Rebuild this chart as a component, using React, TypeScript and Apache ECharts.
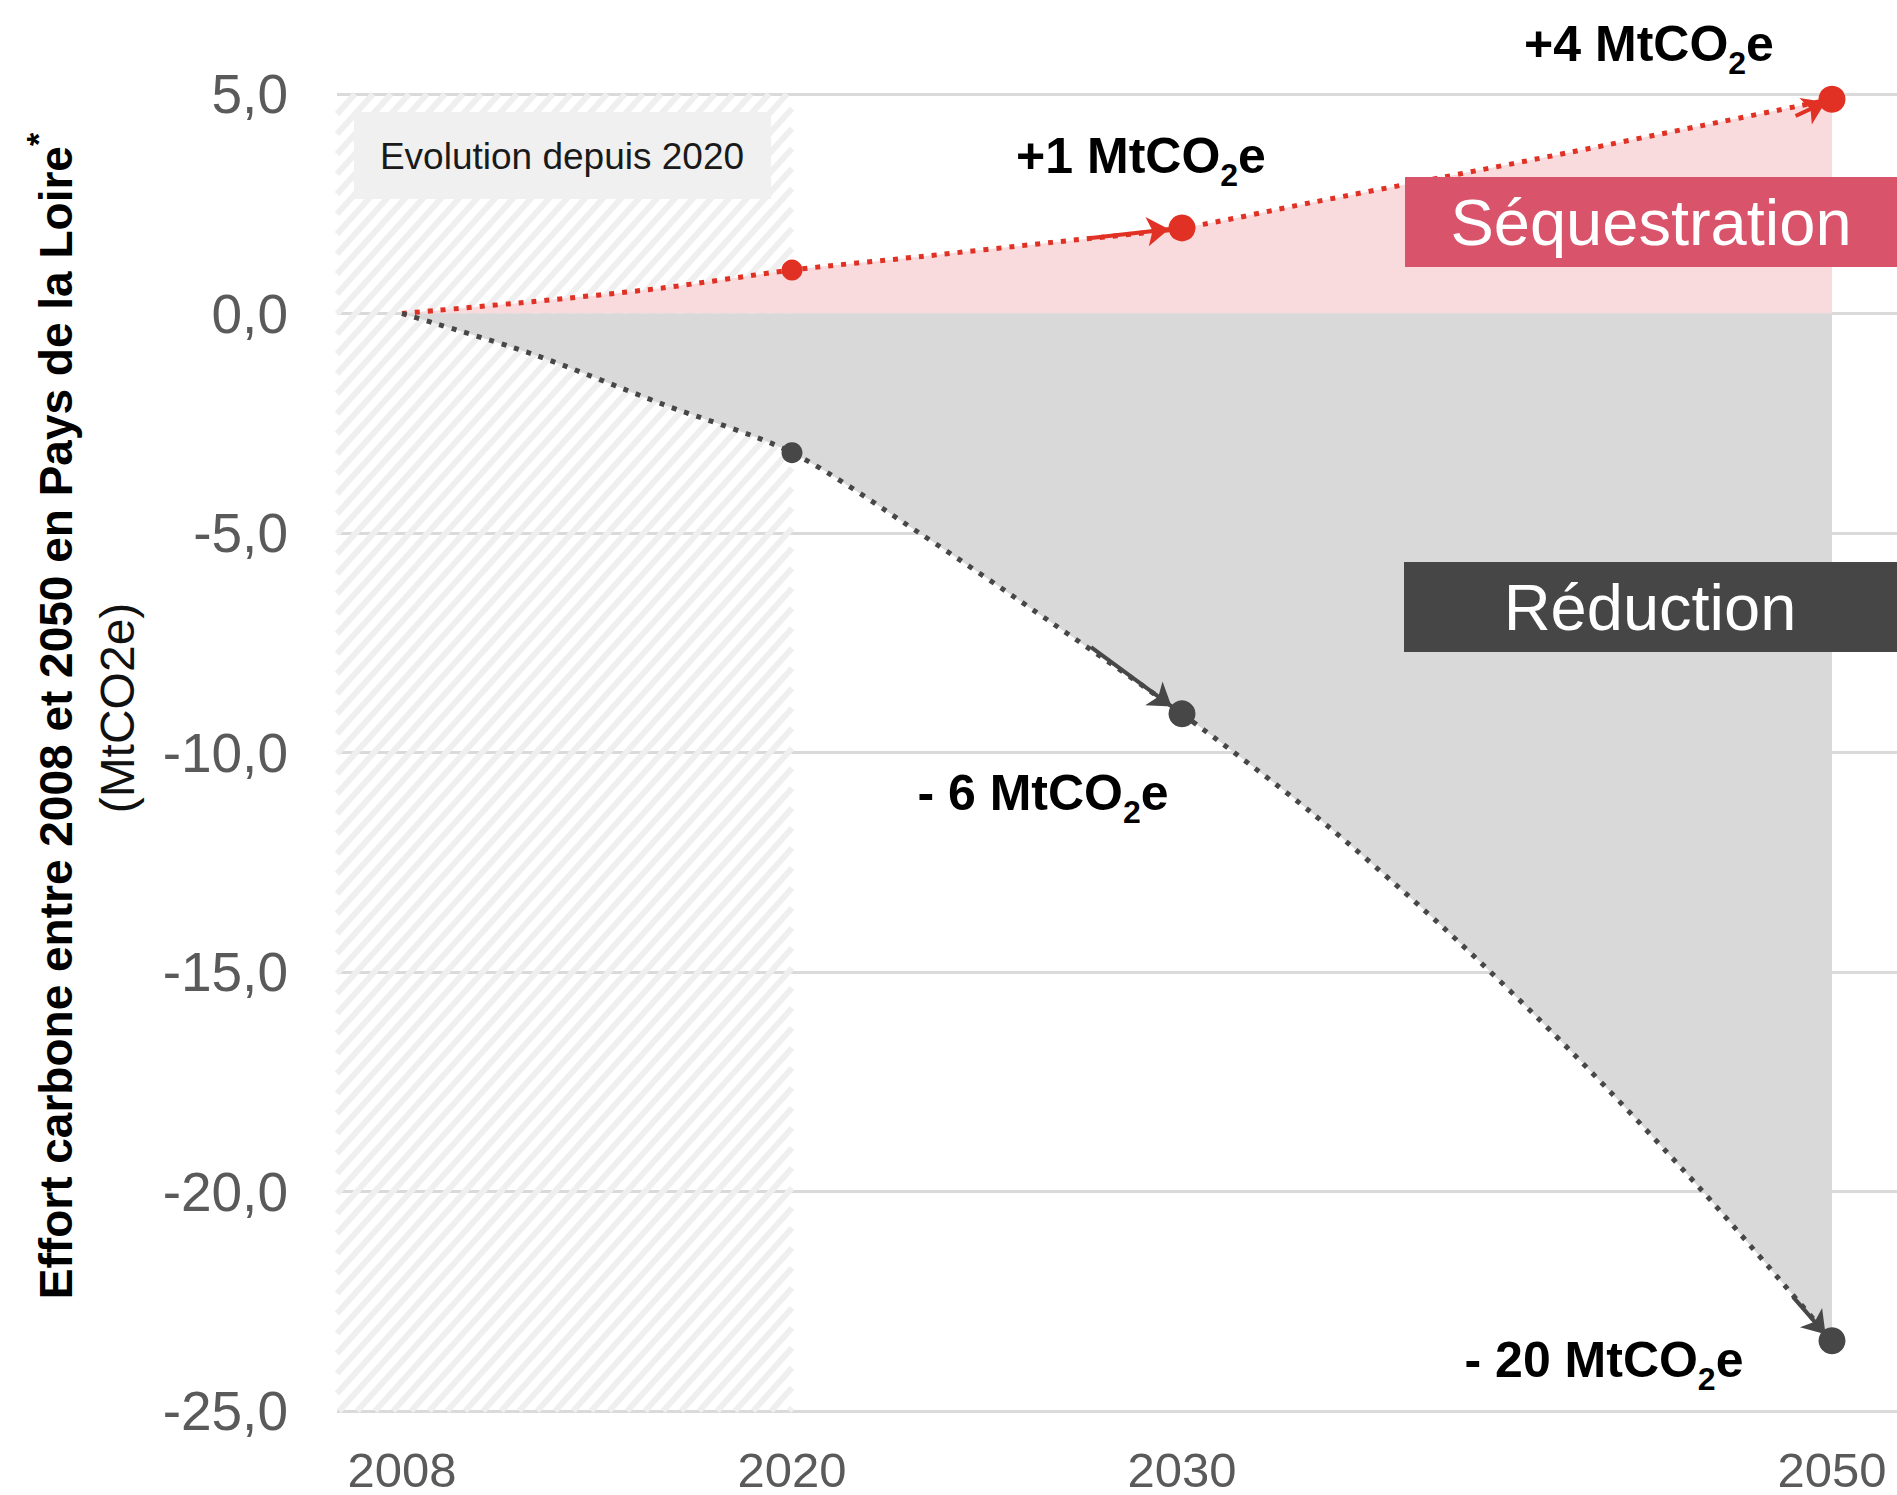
import React, { useEffect, useRef } from "react";
import * as echarts from "echarts";

// ---- data ----
const slots = [0, 1, 2, 3, 4, 5, 6, 7, 8, 9, 10, 11];
const yearLabels = ["2008", "", "", "2020", "", "", "2030", "", "", "", "", "2050"];
const sequestration = [0, 0.27, 0.58, 0.99, 1.3, 1.62, 1.95, 2.53, 3.1, 3.68, 4.28, 4.88];
const reduction = [0, -0.92, -2.06, -3.17, -5.04, -7.05, -9.12, -11.38, -13.96, -16.83, -19.98, -23.4];
const markedSlots = [3, 6, 11];
const yTickValues = [-25, -20, -15, -10, -5, 0, 5];
const historyEndSlot = 3; // 2020
const seqArrows = [
  [[5.3, 1.72], [5.9, 1.92]],
  [[10.72, 4.5], [10.95, 4.82]],
];
const redArrows = [
  [[5.3, -7.6], [5.92, -8.95]],
  [[10.7, -22.4], [10.95, -23.25]],
];
const seqNotes = [
  { slot: 6, text: "+1 MtCO" },
  { slot: 11, text: "+4 MtCO" },
];
const redNotes = [
  { slot: 6, text: "- 6 MtCO" },
  { slot: 11, text: "- 20 MtCO" },
];

// ---- styles ----
const FONT = '"Liberation Sans", Arial, Helvetica, sans-serif';
const RED = "#e03124";
const PINK = "#f9dadd";
const DARK = "#474747";
const GREY_FILL = "#d9d9d9";
const X_MIN = -0.5;
const X_MAX = 11.5;
const noteOffsets: Record<string, number[]> = {
  "s6": [-41, -72],
  "s11": [-183, -55],
  "r6": [-139, 79],
  "r11": [-228, 19],
};

const rich = {
  a: { fontSize: 50, fontWeight: "bold", color: "#000", fontFamily: FONT, lineHeight: 60 },
  s: { fontSize: 32, fontWeight: "bold", color: "#000", fontFamily: FONT, padding: [38, 0, 0, 0] },
};

function buildData(values: number[], notes: { slot: number; text: string }[], key: string) {
  return slots.map((s, i) => {
    const marked = markedSlots.includes(s);
    const note = notes.find((n) => n.slot === s);
    const item: any = {
      value: [s, values[i]],
      symbol: marked ? "circle" : "none",
      symbolSize: s === historyEndSlot ? 21 : 27,
    };
    if (note) {
      item.label = {
        show: true,
        position: "inside",
        offset: noteOffsets[key + s],
        formatter: `{a|${note.text}}{s|2}{a|e}`,
        rich,
      };
    }
    return item;
  });
}

export default function App() {
  const ref = useRef<HTMLDivElement>(null);

  useEffect(() => {
    document.body.style.margin = "0";
    document.body.style.overflow = "hidden";
    const chart = echarts.init(ref.current!, null, { renderer: "svg" });
    const yMin = yTickValues[0];
    const yMax = yTickValues[yTickValues.length - 1];

    const option: any = {
      animation: false,
      backgroundColor: "#ffffff",
      grid: { left: 337, right: 0, top: 94, bottom: 84, containLabel: false, outerBoundsMode: "none" },
      xAxis: {
        type: "value",
        min: X_MIN,
        max: X_MAX,
        interval: 0.5,
        axisLine: { show: false },
        axisTick: { show: false },
        splitLine: { show: false },
        axisLabel: {
          margin: 34,
          fontSize: 49,
          color: "#5a5a5a",
          fontFamily: FONT,
          showMinLabel: true,
          showMaxLabel: true,
          formatter: (v: number) => {
            const i = Math.round(v);
            if (Math.abs(v - i) > 1e-6) return "";
            return yearLabels[i] ?? "";
          },
        },
      },
      yAxis: {
        type: "value",
        min: yMin,
        max: yMax,
        interval: 5,
        axisLine: { show: false },
        axisTick: { show: false },
        splitLine: { show: true, lineStyle: { color: "#dadada", width: 3 } },
        axisLabel: {
          margin: 49,
          fontSize: 55,
          color: "#5a5a5a",
          fontFamily: FONT,
          formatter: (v: number) => v.toFixed(1).replace(".", ","),
        },
      },
      series: [
        {
          type: "custom",
          silent: true,
          clip: false,
          z: 1,
          data: [[X_MIN, yMax]],
          renderItem: (_params: any, api: any) => {
            const tl = api.coord([X_MIN, yMax]);
            const br = api.coord([historyEndSlot, yMin]);
            const x0 = tl[0], yt = tl[1], x1 = br[0], yb = br[1];
            const H = yb - yt;
            const r = 1 / Math.tan((48 * Math.PI) / 180);
            const children: any[] = [];
            for (let c = x0 - H * r; c < x1; c += 18) {
              let sx = c, sy = yb;
              if (sx < x0) { sy = yb - (x0 - c) / r; sx = x0; }
              let ex = c + H * r, ey = yt;
              if (ex > x1) { ey = yb - (x1 - c) / r; ex = x1; }
              if (sy > ey) {
                children.push({
                  type: "line",
                  shape: { x1: sx, y1: sy, x2: ex, y2: ey },
                  style: { stroke: "#efefef", lineWidth: 6 },
                });
              }
            }
            return { type: "group", children };
          },
        },
        {
          name: "Séquestration",
          type: "line",
          z: 3,
          smooth: 0.3,
          showAllSymbol: true,
          data: buildData(sequestration, seqNotes, "s"),
          lineStyle: { color: RED, width: 5, type: [5, 8] },
          itemStyle: { color: RED },
          areaStyle: { color: PINK, opacity: 1, origin: 0 },
          markLine: {
            silent: true,
            symbol: ["none", "arrow"],
            symbolSize: 22,
            label: { show: false },
            lineStyle: { color: RED, width: 4, type: "solid" },
            data: seqArrows.map(([a, b]) => [{ coord: a }, { coord: b }]),
          },
        },
        {
          name: "Réduction",
          type: "line",
          z: 3,
          smooth: 0.3,
          showAllSymbol: true,
          data: buildData(reduction, redNotes, "r"),
          lineStyle: { color: DARK, width: 5, type: [5, 8] },
          itemStyle: { color: DARK },
          areaStyle: { color: GREY_FILL, opacity: 1, origin: 0 },
          markLine: {
            silent: true,
            symbol: ["none", "arrow"],
            symbolSize: 22,
            label: { show: false },
            lineStyle: { color: DARK, width: 4, type: "solid" },
            data: redArrows.map(([a, b]) => [{ coord: a }, { coord: b }]),
          },
        },
      ],
      graphic: [
        {
          type: "rect",
          z: 100,
          shape: { x: 354, y: 112, width: 417, height: 87 },
          style: { fill: "#f0f0f0" },
        },
        {
          type: "text",
          z: 101,
          x: 562,
          y: 156,
          style: {
            text: "Evolution depuis 2020",
            fontSize: 37,
            fontFamily: FONT,
            fill: "#1a1a1a",
            align: "center",
            verticalAlign: "middle",
          },
        },
        {
          type: "rect",
          z: 100,
          shape: { x: 1405, y: 177, width: 492, height: 90 },
          style: { fill: "#d9536b" },
        },
        {
          type: "text",
          z: 101,
          x: 1651,
          y: 222,
          style: {
            text: "Séquestration",
            fontSize: 65,
            fontFamily: FONT,
            fill: "#ffffff",
            align: "center",
            verticalAlign: "middle",
          },
        },
        {
          type: "rect",
          z: 100,
          shape: { x: 1404, y: 562, width: 493, height: 90 },
          style: { fill: "#464646" },
        },
        {
          type: "text",
          z: 101,
          x: 1650,
          y: 607,
          style: {
            text: "Réduction",
            fontSize: 65,
            fontFamily: FONT,
            fill: "#ffffff",
            align: "center",
            verticalAlign: "middle",
          },
        },
        {
          type: "text",
          z: 101,
          x: 56,
          y: 716,
          rotation: Math.PI / 2,
          style: {
            text: "{b|Effort carbone entre 2008 et 2050 en Pays de la Loire}{sup|*}",
            align: "center",
            verticalAlign: "middle",
            rich: {
              b: { fontSize: 46, fontWeight: "bold", fontFamily: FONT, fill: "#000" },
              sup: { fontSize: 34, fontWeight: "bold", fontFamily: FONT, fill: "#000", padding: [0, 0, 36, 0] },
            },
          },
        },
        {
          type: "text",
          z: 101,
          x: 117,
          y: 708,
          rotation: Math.PI / 2,
          style: {
            text: "(MtCO2e)",
            fontSize: 48,
            fontFamily: FONT,
            fill: "#111",
            align: "center",
            verticalAlign: "middle",
          },
        },
      ],
    };

    chart.setOption(option);
    return () => chart.dispose();
  }, []);

  return (
    <div
      ref={ref}
      style={{ position: "absolute", left: 0, top: 0, width: "1897px", height: "1495px" }}
    />
  );
}
